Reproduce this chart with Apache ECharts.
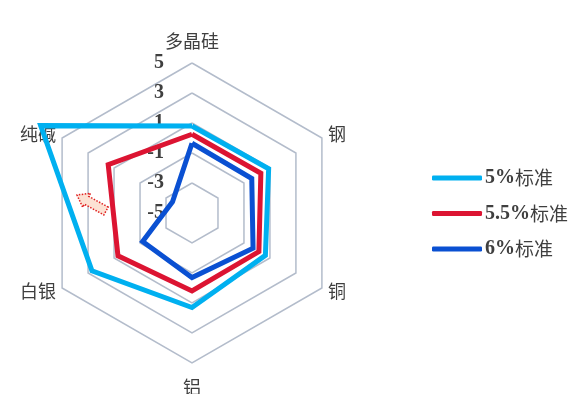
<!DOCTYPE html>
<html>
<head>
<meta charset="utf-8">
<script src="https://cdn.jsdelivr.net/npm/echarts@6/dist/echarts.min.js"></script>
<style>
  html, body { margin: 0; padding: 0; background: #fff; }
  #chart { width: 585px; height: 394px; }
</style>
</head>
<body>
<div id="chart"></div>
<script>
// Indicators listed clockwise from the top
const categories = ['多晶硅', '钢', '铜', '铝', '白银', '纯碱'];
const seriesNames = ['5%标准', '5.5%标准', '6%标准'];
const std5 = [0.8, 0.9, 0.65, 1.3, 2.7, 6.65];
const std55 = [0.25, 0.3, 0.15, 0.2, 0.7, 1.45];
const std6 = [-0.35, -0.4, -0.3, -0.7, -1.2, -3.5];
const axisMin = -5;
const axisMax = 5;
const tickStep = 2;

const colors = ['#00B0F0', '#DC1432', '#0A50D2'];

// ECharts lays radar indicators out counter-clockwise; reorder to run clockwise
const order = [0, 5, 4, 3, 2, 1];
const reorder = arr => order.map(i => arr[i]);

const serif = '"Liberation Serif", "DejaVu Serif", serif';
const cjk = '"Noto Sans CJK SC", sans-serif';

const indicator = reorder(categories).map((name, i) => {
  const ind = { name: name, min: axisMin, max: axisMax };
  if (name === '多晶硅') ind.nameGap = 13;
  if (name === '铝') ind.nameGap = 15;
  if (i === 0) {
    ind.axisLabel = {
      show: true,
      margin: 28,
      fontFamily: serif,
      fontWeight: 'bold',
      fontSize: 20,
      color: '#3F3F3F'
    };
  }
  return ind;
});

const values = [std5, std55, std6];

const chart = echarts.init(document.getElementById('chart'), null, { renderer: 'canvas' });
chart.setOption({
  animation: false,
  backgroundColor: '#ffffff',
  legend: {
    orient: 'vertical',
    left: 427,
    top: 163,
    itemGap: 15.5,
    itemWidth: 50,
    itemHeight: 5,
    icon: 'roundRect',
    data: seriesNames,
    formatter: name => {
      const num = name.replace('标准', '');
      return '{n|' + num + '}{c|标准}';
    },
    textStyle: {
      padding: [0, 0, 0, -2],
      rich: {
        n: { fontFamily: serif, fontWeight: 'bold', fontSize: 20, color: '#3F3F3F', lineHeight: 22 },
        c: { fontFamily: cjk, fontSize: 19, color: '#3F3F3F', lineHeight: 22 }
      }
    }
  },
  radar: {
    center: [192, 213],
    radius: 150,
    startAngle: 90,
    shape: 'polygon',
    splitNumber: (axisMax - axisMin) / tickStep,
    nameGap: 7,
    axisName: {
      color: '#3F3F3F',
      fontFamily: cjk,
      fontSize: 18
    },
    axisLine: { show: false },
    axisTick: { show: false },
    axisLabel: { show: false },
    splitArea: { show: false },
    splitLine: { lineStyle: { color: '#B3BCCB', width: 1.5 } },
    indicator: indicator
  },
  series: [{
    type: 'radar',
    symbol: 'none',
    data: seriesNames.map((name, k) => ({
      name: name,
      value: reorder(values[k]),
      itemStyle: { color: colors[k] },
      lineStyle: { color: colors[k], width: 5, join: 'miter', miterLimit: 20 }
    }))
  }],
  graphic: [{
    // dotted pointer arrow beside the 纯碱 spoke
    type: 'polygon',
    shape: {
      points: [[108.2, 207.1], [88.8, 196.4], [90.5, 193.3], [77, 195], [82.7, 207.3], [84.4, 204.2], [103.8, 214.9]]
    },
    style: {
      fill: '#FCE1D3',
      stroke: '#E02020',
      lineWidth: 1.5,
      lineDash: [1.5, 1.5]
    },
    z: 10
  }]
});
</script>
</body>
</html>
